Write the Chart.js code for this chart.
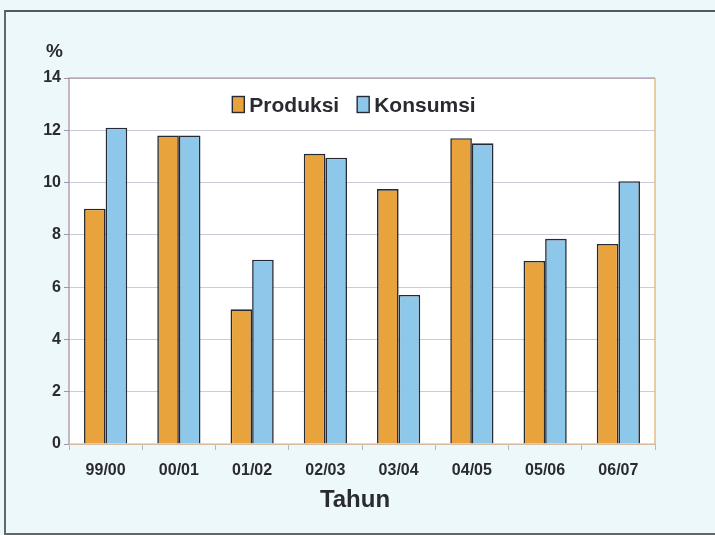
<!DOCTYPE html>
<html>
<head>
<meta charset="utf-8">
<script src="https://cdn.jsdelivr.net/npm/chart.js@4/dist/chart.umd.min.js"></script>
<style>
  html, body { margin: 0; padding: 0; }
  body { width: 715px; height: 535px; background: #edf8fa; position: relative; overflow: hidden; }
  #frame {
    position: absolute; left: 4px; top: 10px; width: 740px; height: 521px;
    border-top: 2px solid #55585c; border-left: 2px solid #63666a; border-bottom: 2px solid #63666a;
  }
  #chart { position: absolute; left: 0; top: 0; }
</style>
</head>
<body>
<div id="frame"></div>
<canvas id="chart" width="715" height="535"></canvas>
<script>
// Growth of production and consumption per season (%)
const tahun = ['99/00', '00/01', '01/02', '02/03', '03/04', '04/05', '05/06', '06/07'];
const produksi = [9.0, 11.8, 5.15, 11.1, 9.75, 11.7, 7.0, 7.65];
const konsumsi = [12.1, 11.8, 7.05, 10.95, 5.7, 11.5, 7.85, 10.05];
const yTicks = [0, 2, 4, 6, 8, 10, 12, 14];

const FONT = '"Liberation Sans", Arial, Helvetica, sans-serif';
const TEXT = '#2a2b31';

// White plot background, coloured plot frame, unit label, axis title and legend
const decor = {
  id: 'decor',
  beforeDraw(chart) {
    const { ctx, chartArea: a } = chart;
    ctx.save();
    ctx.fillStyle = '#ffffff';
    ctx.fillRect(a.left, a.top, a.right - a.left, a.bottom - a.top);
    ctx.restore();
  },
  afterDatasetsDraw(chart) {
    const { ctx, chartArea: a } = chart;
    ctx.save();
    ctx.lineWidth = 1.2;
    // left and top edges
    ctx.strokeStyle = '#a58a9c';
    ctx.beginPath();
    ctx.moveTo(a.left, a.bottom); ctx.lineTo(a.left, a.top); ctx.lineTo(a.right, a.top);
    ctx.stroke();
    // right and bottom edges
    ctx.strokeStyle = '#e3ad6a';
    ctx.beginPath();
    ctx.moveTo(a.right, a.top); ctx.lineTo(a.right, a.bottom); ctx.lineTo(a.left, a.bottom);
    ctx.stroke();

    // unit label above the value axis
    ctx.fillStyle = TEXT;
    ctx.font = 'bold 19px ' + FONT;
    ctx.textAlign = 'center';
    ctx.textBaseline = 'alphabetic';
    ctx.fillText('%', 54.5, 56.5);

    // category axis title
    ctx.font = 'bold 24px ' + FONT;
    ctx.fillText('Tahun', 355, 506.5);

    // legend inside the plot, centred near the top
    ctx.font = 'bold 21px ' + FONT;
    ctx.textAlign = 'left';
    const boxW = 12, boxH = 16, gap = 5, itemGap = 18;
    const items = chart.data.datasets.map(ds => ({
      label: ds.label, fill: ds.backgroundColor, stroke: ds.borderColor,
      w: boxW + gap + ctx.measureText(ds.label).width
    }));
    const total = items.reduce((s, it) => s + it.w, 0) + itemGap * (items.length - 1);
    let x = 354 - total / 2;
    const baseY = 111.5;
    items.forEach(it => {
      ctx.fillStyle = it.fill;
      ctx.fillRect(x, baseY - 15, boxW, boxH);
      ctx.strokeStyle = it.stroke;
      ctx.lineWidth = 1.4;
      ctx.strokeRect(x, baseY - 15, boxW, boxH);
      ctx.fillStyle = TEXT;
      ctx.fillText(it.label, x + boxW + gap, baseY);
      x += it.w + itemGap;
    });
    ctx.restore();
  }
};

new Chart(document.getElementById('chart'), {
  type: 'bar',
  data: {
    labels: tahun,
    datasets: [
      {
        label: 'Produksi', data: produksi,
        backgroundColor: '#e8a33c', borderColor: '#262a35', borderWidth: 1.6,
        categoryPercentage: 0.59, barPercentage: 1.0
      },
      {
        label: 'Konsumsi', data: konsumsi,
        backgroundColor: '#8dc8ea', borderColor: '#262a35', borderWidth: 1.6,
        categoryPercentage: 0.59, barPercentage: 1.0
      }
    ]
  },
  options: {
    responsive: false,
    animation: false,
    devicePixelRatio: 1,
    layout: { padding: { top: 78, left: 0, right: 60, bottom: 0 } },
    plugins: {
      legend: { display: false },
      tooltip: { enabled: false }
    },
    scales: {
      x: {
        grid: { display: true, drawOnChartArea: false, offset: true, tickLength: 6, tickColor: '#b4b8c0', lineWidth: 1 },
        border: { display: false },
        ticks: { font: { family: FONT, size: 16, weight: 'bold' }, color: TEXT, padding: 11, maxRotation: 0 },
        afterFit(scale) { scale.height = 91; }
      },
      y: {
        min: 0, max: 14,
        afterBuildTicks(scale) { scale.ticks = yTicks.map(v => ({ value: v })); },
        grid: { color: '#cbcbd9', lineWidth: 1, tickLength: 5, tickColor: '#9a9aa6' },
        border: { display: false },
        ticks: { font: { family: FONT, size: 16, weight: 'bold' }, color: TEXT, padding: 3 },
        afterFit(scale) { scale.width = 69; }
      }
    }
  },
  plugins: [decor]
});
</script>
</body>
</html>
